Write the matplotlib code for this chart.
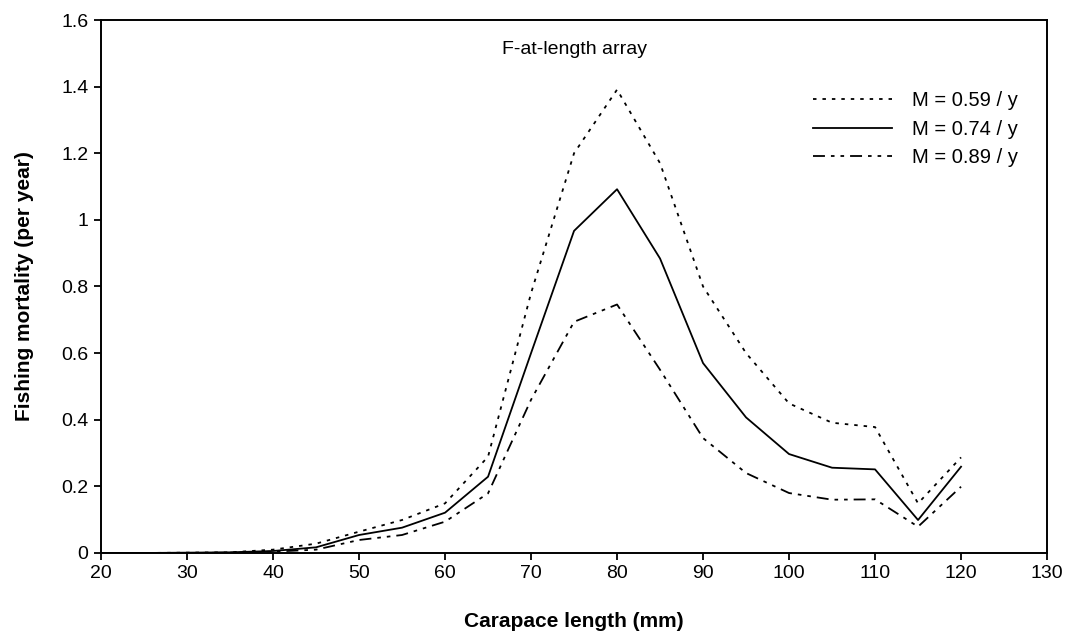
import numpy as np
import matplotlib
matplotlib.use('Agg')
import matplotlib.pyplot as plt

plt.rcParams['font.family'] = ['Liberation Sans', 'DejaVu Sans']
plt.rcParams['lines.scale_dashes'] = False

# carapace length classes (mm)
length = [20, 25, 30, 35, 40, 45, 50, 55, 60, 65, 70, 75, 80, 85, 90, 95, 100, 105, 110, 115, 120]

# F-at-length for three natural mortality values
f_059 = [0, 0, 0.001, 0.002, 0.010, 0.028, 0.064, 0.099, 0.149, 0.289, 0.78, 1.20, 1.391, 1.17, 0.80,
         0.600, 0.449, 0.391, 0.378, 0.149, 0.287]
f_074 = [0, 0, 0.001, 0.002, 0.006, 0.017, 0.054, 0.076, 0.121, 0.229, 0.60, 0.967, 1.092, 0.884, 0.57,
         0.407, 0.297, 0.256, 0.251, 0.099, 0.259]
f_089 = [0, 0, 0.0, 0.001, 0.004, 0.010, 0.039, 0.054, 0.094, 0.179, 0.46, 0.694, 0.746, 0.55, 0.345,
         0.240, 0.180, 0.160, 0.161, 0.079, 0.199]

labels = ['M = 0.59 / y', 'M = 0.74 / y', 'M = 0.89 / y']

fig = plt.figure(figsize=(10.67, 6.33), dpi=100)
ax = fig.add_axes([0.0947, 0.1264, 0.8866, 0.842])

lw = 1.3
ax.plot(length, f_059, color='black', lw=lw, dashes=(2.5, 4.3), label=labels[0])
ax.plot(length, f_074, color='black', lw=lw, linestyle='-', label=labels[1])
ax.plot(length, f_089, color='black', lw=lw, dashes=(8.6, 4.3, 2.6, 4.3, 2.6, 4.3), label=labels[2])

ax.set_xlim(20, 130)
ax.set_ylim(0, 1.6)
ax.set_xticks(np.arange(20, 131, 10))
ax.set_yticks(np.arange(0, 1.61, 0.2))
ax.set_yticklabels(['0', '0.2', '0.4', '0.6', '0.8', '1', '1.2', '1.4', '1.6'])

for s in ax.spines.values():
    s.set_linewidth(1.4)
ax.tick_params(direction='out', length=5, width=1.3, labelsize=14, pad=4)

ax.set_xlabel('Carapace length (mm)', fontsize=15, fontweight='bold', labelpad=21)
ax.set_ylabel('Fishing mortality (per year)', fontsize=15, fontweight='bold', labelpad=20)

ax.text(0.5, 0.945, 'F-at-length array', transform=ax.transAxes, ha='center', va='center', fontsize=14)

leg = ax.legend(loc='upper left', bbox_to_anchor=(0.753, 0.866), frameon=False, fontsize=14.5,
                handlelength=3.9, handletextpad=1.0, labelspacing=0.46, borderpad=0, borderaxespad=0)

fig.savefig('out.png', dpi=100)
